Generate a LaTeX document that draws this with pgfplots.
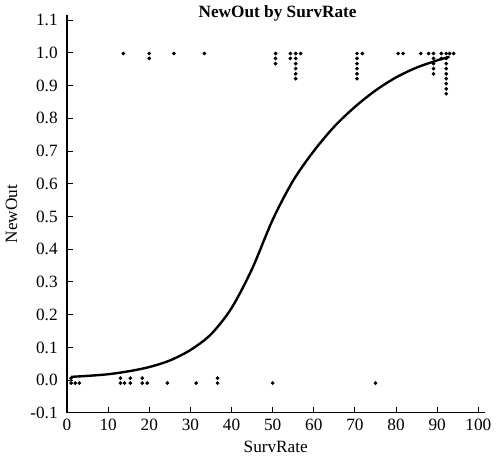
\documentclass[border=0pt]{standalone}
\usepackage{pgfplots}
\pgfplotsset{compat=1.18}
\usepackage{fontspec}
\setmainfont{Liberation Serif}
\begin{document}
\fontsize{13pt}{15pt}\selectfont
\begin{tikzpicture}
\begin{axis}[
  scale only axis,
  width=315pt, height=300pt,
  xmin=0, xmax=101.5, ymin=-0.1, ymax=1.115,
  axis lines=left,
  axis line style={-, line width=0.9pt},
  tick align=inside,
  major tick length=4.5pt,
  tick style={line width=0.8pt, black},
  xtick={0,10,...,100},
  ytick={-0.1,0,0.1,0.2,0.3,0.4,0.5,0.6,0.7,0.8,0.9,1.0,1.1},
  yticklabel style={xshift=-2.5pt, /pgf/number format/.cd, fixed, fixed zerofill, precision=1},
  /pgf/number format/assume math mode=true,
  ticklabel style={font=\fontsize{13pt}{15pt}\selectfont},
  label style={font=\fontsize{13pt}{15pt}\selectfont},
  xlabel={SurvRate}, ylabel={NewOut},
  xlabel style={yshift=1pt},
  ylabel style={yshift=1pt},
  clip=false,
]
\addplot[only marks, mark=*, mark size=1.2pt, black] coordinates {
(13.7,0.998) (20.0,0.998) (20.0,0.983) (26.0,0.998) (33.4,0.998)
(50.7,0.998) (50.7,0.983) (50.7,0.967)
(54.3,0.998) (54.3,0.983)
(55.6,0.998) (55.6,0.983) (55.6,0.967) (55.6,0.952) (55.6,0.936) (55.6,0.921)
(56.8,0.998)
(70.5,0.998) (70.5,0.983) (70.5,0.967) (70.5,0.952) (70.5,0.936) (70.5,0.921)
(71.8,0.998) (80.5,0.998) (81.7,0.998) (86.0,0.998) (87.9,0.998)
(89.1,0.998) (89.1,0.983) (89.1,0.967) (89.1,0.952) (89.1,0.936)
(91.0,0.998) (91.0,0.983)
(92.2,0.998) (92.2,0.983) (92.2,0.967) (92.2,0.952) (92.2,0.936) (92.2,0.921) (92.2,0.906) (92.2,0.890) (92.2,0.875)
(93.0,0.998) (94.0,0.998)
};
\addplot[only marks, mark=*, mark size=1.2pt, black] coordinates {
(1.0,-0.009) (1.0,0.006) (2.0,-0.009) (3.0,-0.009)
(13.0,-0.009) (13.0,0.006) (14.0,-0.009) (15.4,-0.009) (15.4,0.006)
(18.3,-0.009) (18.3,0.006) (19.5,-0.009)
(24.4,-0.009) (31.4,-0.009) (36.6,-0.009) (36.6,0.006)
(50.0,-0.009) (75.0,-0.009)
};
\addplot[black, line width=1.8pt, smooth] coordinates {
(1,0.010) (5,0.013) (10,0.018) (15,0.027) (20,0.040) (25,0.060) (30,0.092)
(35,0.14) (40,0.22) (45,0.34) (50,0.49) (55,0.61) (60,0.70) (65,0.775)
(70,0.835) (75,0.885) (80,0.925) (85,0.955) (90,0.977) (93,0.988)
};
\node[font=\bfseries\fontsize{13pt}{15pt}\selectfont] at (axis cs:51.2,1.12) {NewOut by SurvRate};
\end{axis}
\end{tikzpicture}
\end{document}
